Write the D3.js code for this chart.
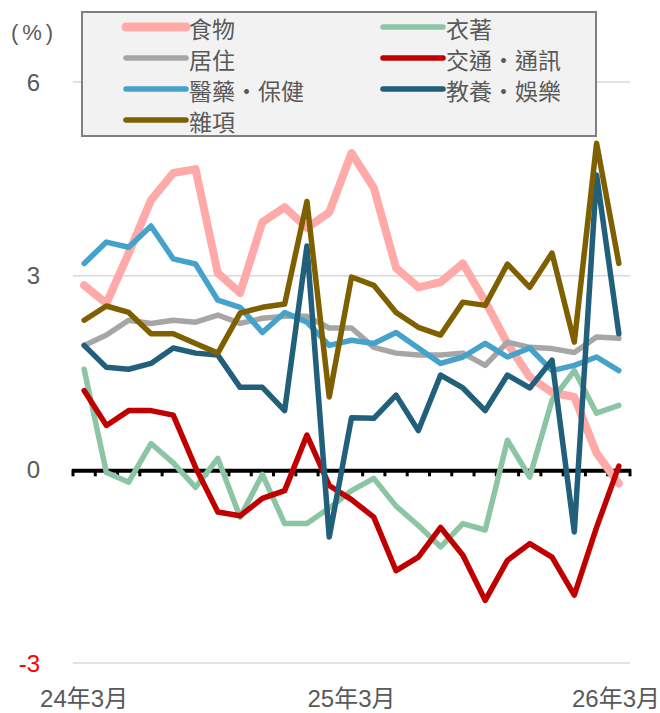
<!DOCTYPE html>
<html>
<head>
<meta charset="utf-8">
<script src="https://cdn.jsdelivr.net/npm/d3@7/dist/d3.min.js"></script>
<style>
  html, body { margin: 0; padding: 0; background: #fff; }
  svg { display: block; }
  text { font-family: "Liberation Sans", "Noto Sans CJK TC", sans-serif; }
</style>
</head>
<body>
<svg id="chart" width="660" height="713"></svg>
<script>
const categories = ["24年3月","24年4月","24年5月","24年6月","24年7月","24年8月","24年9月","24年10月","24年11月","24年12月","25年1月","25年2月","25年3月","25年4月","25年5月","25年6月","25年7月","25年8月","25年9月","25年10月","25年11月","25年12月","26年1月","26年2月","26年3月"];
const shownTicks = ["24年3月","25年3月","26年3月"];
const yTicks = [-3, 0, 3, 6];

const seriesNames = ["食物","衣著","居住","交通·通訊","醫藥·保健","教養·娛樂","雜項"];
const food      = [2.85, 2.57, 3.35, 4.17, 4.59, 4.65, 3.04, 2.73, 3.83, 4.06, 3.74, 3.98, 4.90, 4.36, 3.12, 2.82, 2.90, 3.19, 2.60, 1.95, 1.43, 1.19, 1.12, 0.25, -0.22];
const clothing  = [1.55, -0.05, -0.20, 0.40, 0.10, -0.28, 0.17, -0.74, -0.08, -0.84, -0.84, -0.60, -0.33, -0.14, -0.57, -0.87, -1.20, -0.84, -0.94, 0.45, -0.12, 1.07, 1.53, 0.87, 0.99];
const housing   = [1.92, 2.08, 2.31, 2.26, 2.31, 2.28, 2.39, 2.26, 2.34, 2.37, 2.37, 2.19, 2.19, 1.89, 1.80, 1.77, 1.77, 1.80, 1.61, 1.97, 1.89, 1.87, 1.81, 2.05, 2.03];
const transport = [1.22, 0.68, 0.91, 0.91, 0.84, 0.03, -0.66, -0.72, -0.45, -0.33, 0.53, -0.25, -0.47, -0.74, -1.57, -1.36, -0.90, -1.33, -2.03, -1.41, -1.15, -1.36, -1.95, -0.90, 0.05];
const medical   = [3.19, 3.52, 3.44, 3.77, 3.26, 3.18, 2.62, 2.51, 2.12, 2.43, 2.28, 1.92, 2.00, 1.95, 2.12, 1.88, 1.64, 1.74, 1.95, 1.74, 1.88, 1.53, 1.61, 1.74, 1.53];
const culture   = [1.92, 1.58, 1.55, 1.64, 1.88, 1.80, 1.77, 1.27, 1.27, 0.91, 3.46, -1.05, 0.80, 0.79, 1.15, 0.60, 1.46, 1.26, 0.91, 1.46, 1.26, 1.69, -0.97, 4.56, 2.10];
const misc      = [2.31, 2.53, 2.43, 2.10, 2.10, 1.95, 1.80, 2.42, 2.51, 2.56, 4.15, 1.12, 2.98, 2.85, 2.43, 2.20, 2.08, 2.59, 2.54, 3.18, 2.82, 3.35, 1.97, 5.05, 3.19];

const seriesValues = [food, clothing, housing, transport, medical, culture, misc];
const colors = ["#ffa9a9", "#8cc5a4", "#a6a6a6", "#c00000", "#45a2cb", "#215f7b", "#7f6000"];
const widths = [8, 5.5, 5.5, 5.5, 5.5, 5.5, 5.5];

const svg = d3.select("#chart");
const plotLeft = 73, plotRight = 630;

const x = d3.scaleBand().domain(categories).range([plotLeft, plotRight]);
const y = d3.scaleLinear().domain([-3, 6]).range([663, 82]);
const cx = d => x(d) + x.bandwidth() / 2;

// gridlines
svg.append("g").selectAll("line").data(yTicks.filter(v => v !== 0)).join("line")
  .attr("x1", plotLeft).attr("x2", plotRight)
  .attr("y1", d => y(d)).attr("y2", d => y(d))
  .attr("stroke", "#d9d9d9").attr("stroke-width", 1.5);

// y tick labels
svg.append("g").selectAll("text").data(yTicks).join("text")
  .attr("x", 40).attr("y", d => y(d))
  .attr("text-anchor", "end").attr("dominant-baseline", "central")
  .attr("font-size", 24)
  .attr("fill", d => d < 0 ? "#ff0000" : "#595959")
  .text(d => d);

// unit label
svg.append("text").attr("x", 34).attr("y", 32)
  .attr("text-anchor", "middle").attr("dominant-baseline", "central")
  .attr("font-size", 22).attr("fill", "#595959")
  .style("letter-spacing", "4px")
  .text("(%)");

// zero axis with ticks
const zy = y(0);
const axisG = svg.append("g");
axisG.append("line").attr("x1", plotLeft - 1).attr("x2", plotRight + 1)
  .attr("y1", zy + 1.5).attr("y2", zy + 1.5)
  .attr("stroke", "#000").attr("stroke-width", 4);
const boundaries = categories.map(c => x(c)).concat([plotRight]);
axisG.selectAll("line.tk").data(boundaries).join("line").attr("class", "tk")
  .attr("x1", d => d).attr("x2", d => d)
  .attr("y1", zy).attr("y2", zy + 7)
  .attr("stroke", "#000").attr("stroke-width", 3);

// x labels
svg.append("g").selectAll("text").data(shownTicks).join("text")
  .attr("x", d => Math.min(cx(d), 660 - 44))
  .attr("y", 698)
  .attr("text-anchor", "middle").attr("dominant-baseline", "central")
  .attr("font-size", 24).attr("fill", "#595959")
  .text(d => d);

// series lines
const line = d3.line().x((d, i) => cx(categories[i])).y(d => y(d));
svg.append("g").selectAll("path").data(seriesValues).join("path")
  .attr("d", d => line(d))
  .attr("fill", "none")
  .attr("stroke", (d, i) => colors[i])
  .attr("stroke-width", (d, i) => widths[i])
  .attr("stroke-linejoin", "round")
  .attr("stroke-linecap", "round");

// legend
const lg = svg.append("g");
lg.append("rect").attr("x", 82).attr("y", 12).attr("width", 514).attr("height", 124)
  .attr("fill", "#f2f2f2").attr("stroke", "#808080").attr("stroke-width", 2);
const colX = [126, 383];
const rowY = [27, 58, 89, 120];
seriesNames.forEach((name, i) => {
  const cxl = colX[i % 2], ry = rowY[Math.floor(i / 2)];
  lg.append("line").attr("x1", cxl).attr("x2", cxl + 60).attr("y1", ry).attr("y2", ry)
    .attr("stroke", colors[i]).attr("stroke-width", i === 0 ? 9 : 5.5)
    .attr("stroke-linecap", "round");
  const t = lg.append("text").attr("x", cxl + 63).attr("y", ry + 1)
    .attr("dominant-baseline", "central").attr("font-size", 23)
    .attr("fill", "#595959")
    .style("font-family", "'Noto Sans CJK TC', sans-serif");
  const parts = name.split("·");
  if (parts.length === 2) {
    t.append("tspan").text(parts[0]);
    t.append("tspan").text("·");
    t.append("tspan").text(parts[1]);
  } else {
    t.text(name);
  }
});
</script>
</body>
</html>
